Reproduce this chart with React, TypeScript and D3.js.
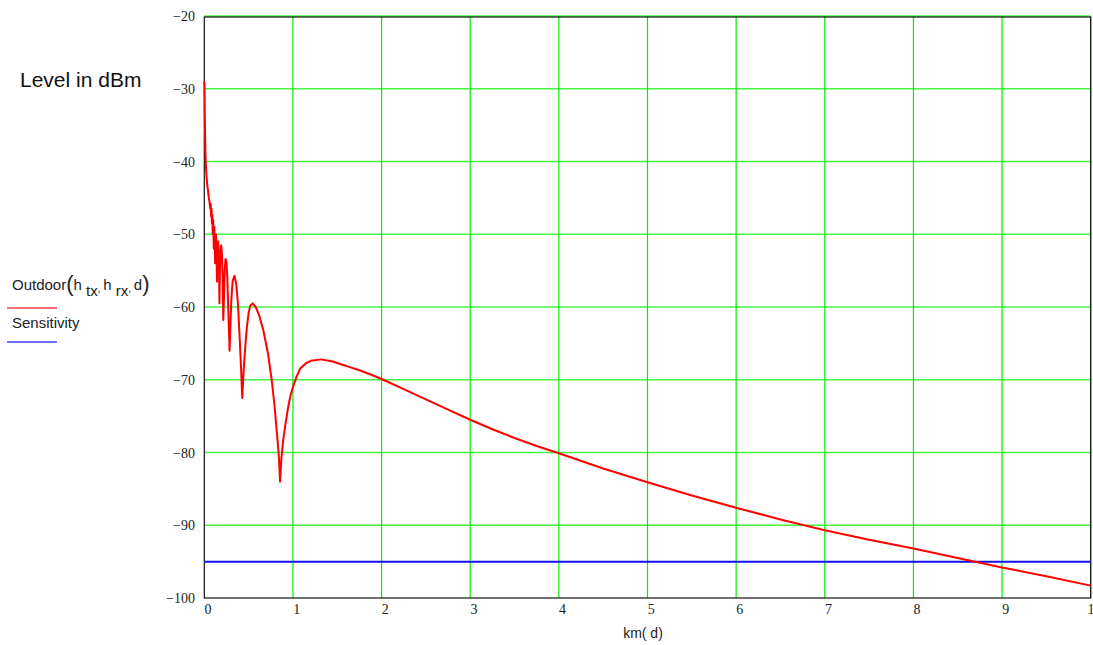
import React, { useEffect, useRef } from "react";
import * as d3 from "d3";

// distance in km and received level in dBm
const distanceKm = [
  0.002, 0.004, 0.006, 0.009, 0.013, 0.018, 0.025, 0.033, 0.042, 0.05,
  0.058, 0.066, 0.072, 0.0775, 0.0814, 0.0855, 0.09, 0.095, 0.1006, 0.107,
  0.114, 0.122, 0.126, 0.1315, 0.137, 0.1425, 0.147, 0.1555, 0.163, 0.171,
  0.176, 0.182, 0.19, 0.198, 0.206, 0.214, 0.22, 0.23, 0.24, 0.25,
  0.26, 0.27, 0.278, 0.285, 0.295, 0.305, 0.32, 0.34, 0.36, 0.38,
  0.4, 0.415, 0.428, 0.445, 0.46, 0.48, 0.5, 0.52, 0.546, 0.58,
  0.62, 0.666, 0.72, 0.76, 0.79, 0.816, 0.84, 0.855, 0.87, 0.89,
  0.91, 0.94, 0.97, 1.0, 1.04, 1.08, 1.14, 1.2, 1.32, 1.45,
  1.55, 1.65, 1.75, 1.87, 2.0, 2.25, 2.5, 2.75, 3.0, 3.25,
  3.5, 3.75, 4.0, 4.5, 5.0, 5.5, 6.0, 6.5, 7.0, 7.5,
  8.0, 8.5, 9.0, 9.5, 10.0,
];

const outdoorDbm = [
  -29, -31.5, -34, -36.5, -38.8, -40.5, -42, -43.2, -44, -44.9,
  -45.5, -46.4, -45.8, -47.6, -46.5, -48.5, -47.3, -50, -48, -52,
  -49, -54, -52, -50, -51.5, -56.5, -53.5, -51, -52.5, -59.5,
  -55, -52.5, -51.5, -52.5, -55.5, -61.8, -59.5, -55, -53.4, -53.8,
  -56, -60.2, -63, -66, -62.5, -59, -56.4, -55.7, -56.8, -59.6,
  -64.5, -68.5, -72.5, -68.5, -65.8, -62.8, -60.8, -59.8, -59.5, -60,
  -61.2, -63.2, -66.5, -70, -73.3, -76.9, -80.3, -84, -80.8, -78.3,
  -76.6, -74.2, -72.3, -71, -69.6, -68.5, -67.8, -67.4, -67.2, -67.5,
  -67.9, -68.3, -68.7, -69.25, -69.9, -71.3, -72.7, -74.1, -75.5, -76.8,
  -78, -79.1, -80.1, -82.2, -84.1, -85.9, -87.6, -89.2, -90.7, -92,
  -93.2, -94.5, -95.8, -97, -98.3,
];

const sensitivityDbm = -95;

const xTicks = [0, 1, 2, 3, 4, 5, 6, 7, 8, 9, 10];
const yTicks = [-100, -90, -80, -70, -60, -50, -40, -30, -20];

const App = () => {
  const svgRef = useRef<SVGSVGElement>(null);

  useEffect(() => {
    const width = 1093,
      height = 645;
    const plot = { left: 204.3, right: 1090.7, top: 16, bottom: 598 };

    const svg = d3.select(svgRef.current);
    svg.selectAll("*").remove();

    const x = d3.scaleLinear().domain([0, 10]).range([plot.left, plot.right]);
    const y = d3.scaleLinear().domain([-100, -20]).range([plot.bottom, plot.top]);

    svg.append("rect").attr("width", width).attr("height", height).attr("fill", "white");

    // grid
    svg
      .append("g")
      .selectAll("line")
      .data(yTicks.filter((t) => t > -100))
      .enter()
      .append("line")
      .attr("x1", plot.left)
      .attr("x2", plot.right)
      .attr("y1", (d) => y(d))
      .attr("y2", (d) => y(d))
      .attr("stroke", "#44f544")
      .attr("stroke-width", 1.5);

    svg
      .append("g")
      .selectAll("line")
      .data(xTicks.filter((t) => t > 0))
      .enter()
      .append("line")
      .attr("x1", (d) => x(d))
      .attr("x2", (d) => x(d))
      .attr("y1", plot.top)
      .attr("y2", plot.bottom)
      .attr("stroke", "#00ee00")
      .attr("stroke-width", 1.2);

    // frame
    svg
      .append("rect")
      .attr("x", plot.left)
      .attr("y", y(-20) + 1)
      .attr("width", plot.right - plot.left)
      .attr("height", plot.bottom - plot.top - 1)
      .attr("fill", "none")
      .attr("stroke", "#111")
      .attr("stroke-width", 1.2);

    // tick labels
    svg
      .append("g")
      .selectAll("text")
      .data(yTicks)
      .enter()
      .append("text")
      .attr("x", 195)
      .attr("y", (d) => y(d) + 5)
      .attr("text-anchor", "end")
      .attr("font-family", "Liberation Serif")
      .attr("font-size", 14)
      .attr("fill", "#222")
      .text((d) => "\u2212" + Math.abs(d));

    // the last label runs off the right edge, as in the original
    svg
      .append("g")
      .selectAll("text")
      .data(xTicks)
      .enter()
      .append("text")
      .attr("x", (d) => x(d) + 3.7)
      .attr("y", 614)
      .attr("text-anchor", "middle")
      .attr("font-family", "Liberation Serif")
      .attr("font-size", 14)
      .attr("fill", "#222")
      .text((d) => String(d));

    // sensitivity
    svg
      .append("line")
      .attr("x1", plot.left)
      .attr("x2", plot.right)
      .attr("y1", y(sensitivityDbm))
      .attr("y2", y(sensitivityDbm))
      .attr("stroke", "#1010ee")
      .attr("stroke-width", 2);

    // outdoor curve
    const pts = distanceKm.map((d, i) => [d, outdoorDbm[i]] as [number, number]);
    const line = d3
      .line<[number, number]>()
      .x((d) => x(d[0]))
      .y((d) => y(d[1]));

    svg
      .append("path")
      .attr("d", line(pts))
      .attr("fill", "none")
      .attr("stroke", "#ff0000")
      .attr("stroke-width", 2)
      .attr("stroke-linejoin", "round");

    // axis titles
    svg
      .append("text")
      .attr("x", 20)
      .attr("y", 87)
      .attr("font-family", "Liberation Sans")
      .attr("font-size", 21)
      .attr("fill", "#111")
      .text("Level in dBm");

    svg
      .append("text")
      .attr("x", 643)
      .attr("y", 638)
      .attr("text-anchor", "middle")
      .attr("font-family", "Liberation Sans")
      .attr("font-size", 14)
      .attr("fill", "#222")
      .text("km( d)");

    // legend
    const leg = svg
      .append("g")
      .attr("font-family", "Liberation Sans")
      .attr("font-size", 15)
      .attr("fill", "#222");

    const label = leg.append("text").attr("x", 12).attr("y", 290);
    label.append("tspan").text("Outdoor");
    label.append("tspan").attr("font-size", 22).attr("dy", 1).text("(");
    label.append("tspan").attr("dy", -1).text("h ");
    label.append("tspan").attr("dy", 6).text("tx");
    label.append("tspan").attr("dy", -4).attr("font-size", 10).text(", ");
    label.append("tspan").attr("dy", -2).text("h ");
    label.append("tspan").attr("dy", 6).text("rx");
    label.append("tspan").attr("dy", -4).attr("font-size", 10).text(", ");
    label.append("tspan").attr("dy", -2).text("d");
    label.append("tspan").attr("font-size", 22).attr("dy", 1).text(")");

    svg
      .append("line")
      .attr("x1", 7)
      .attr("x2", 57)
      .attr("y1", 308)
      .attr("y2", 308)
      .style("stroke", "#ff4040")
      .style("stroke-width", "1.6px");

    leg.append("text").attr("x", 12).attr("y", 328).text("Sensitivity");

    svg
      .append("line")
      .attr("x1", 7)
      .attr("x2", 57)
      .attr("y1", 342)
      .attr("y2", 342)
      .style("stroke", "#4040ff")
      .style("stroke-width", "1.6px");
  }, []);

  return (
    <svg
      ref={svgRef}
      width={1093}
      height={645}
      style={{ position: "absolute", left: 0, top: 0 }}
    />
  );
};

export default App;
